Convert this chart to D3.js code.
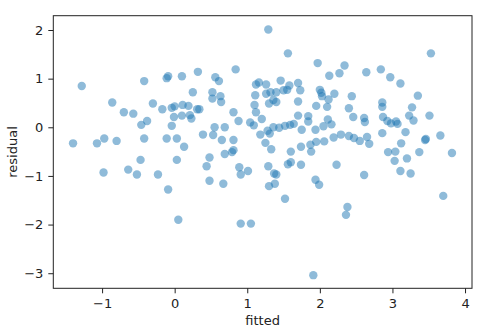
<!DOCTYPE html>
<html>
<head>
<meta charset="utf-8">
<script src="https://cdn.jsdelivr.net/npm/d3@7"></script>
<style>
  body { margin: 0; background: #fff; }
  text { font-family: "DejaVu Sans", sans-serif; }
</style>
</head>
<body>
<div class="resid_chart"></div>
<script>
// residuals vs fitted
const fitted = [
  -1.28, -0.42, -0.86, -0.70, -0.57, -0.30, -0.46, -0.38, -1.40, -1.07,
  -0.97, -0.80, -0.42, -0.98, -0.64, -0.52, -0.47, -0.23, -0.09, 0.05,
  0.03, -0.11, 0.03, 0.13, -0.04, -0.17, -0.04, 0.00, 0.11, 0.19,
  0.31, 0.34, -0.01, 0.10, 0.21, 0.23, -0.11, -0.09, 0.10, 0.32,
  0.56, 0.61, 0.84, 0.25, 0.52, 0.52, 0.63, 0.64, 0.39, 0.53,
  0.55, 0.69, 0.65, 0.81, 0.81, 0.88, 0.69, 0.79, 0.81, 0.48,
  0.44, 0.89, 0.91, 1.01, 0.48, 0.67, 0.91, 1.05, 1.04, 1.09,
  1.18, 1.20, 1.12, 1.10, 1.11, 1.12, 1.16, 1.26, 1.29, 1.56,
  1.46, 1.58, 1.70, 1.26, 1.32, 1.40, 1.50, 1.55, 1.73, 1.30,
  1.36, 1.40, 1.70, 1.70, 1.36, 1.44, 1.28, 1.31, 1.52, 1.59,
  1.64, 1.75, 1.25, 1.33, 1.60, 1.74, 1.97, 2.13, 2.27, 2.34,
  2.00, 2.02, 2.03, 2.12, 2.20, 1.95, 2.10, 1.84, 1.84, 1.94,
  2.05, 2.11, 2.16, 1.87, 1.95, 2.06, 1.88, 2.19, 2.29, 1.56,
  1.60, 1.74, 2.23, 1.29, 1.37, 1.40, 1.38, 1.30, 1.52, 1.94,
  1.99, 1.91, 2.38, 2.36, 2.61, 2.40, 2.47, 2.55, 2.65, 2.68,
  2.44, 2.40, 2.46, 2.61, 2.62, 2.64, 2.84, 2.97, 3.11, 3.53,
  3.35, 3.27, 3.23, 3.29, 3.51, 2.86, 2.86, 2.87, 2.93, 2.98,
  3.05, 3.07, 2.86, 3.12, 3.18, 3.45, 3.46, 3.66, 2.94, 3.04,
  3.03, 3.11, 3.20, 3.25, 3.37, 3.82, 3.70
];
const residual = [
  0.85, 0.95, 0.51, 0.31, 0.28, 0.49, 0.05, 0.13, -0.33, -0.33,
  -0.23, -0.28, -0.23, -0.93, -0.87, -0.97, -0.67, -0.97, -1.28, -1.90,
  -0.67, -0.23, -0.23, -0.40, 0.03, 0.37, 0.40, 0.43, 0.46, 0.44,
  0.37, 0.37, 0.21, 0.24, 0.25, 0.18, 1.01, 1.05, 1.05, 1.14,
  1.03, 0.95, 1.19, 0.72, 0.72, 0.59, 0.64, 0.52, -0.15, -0.16,
  0.00, 0.00, -0.26, -0.26, 0.31, 0.13, -0.55, -0.51, -0.47, -0.62,
  -0.80, -0.82, -0.97, -0.90, -1.10, -1.16, -1.98, -1.98, 0.10, 0.04,
  -0.15, 0.17, 0.31, 0.46, 0.66, 0.88, 0.92, 0.88, 2.01, 1.52,
  0.96, 0.86, 0.91, 0.69, 0.72, 0.72, 0.76, 0.77, 0.76, 0.49,
  0.56, 0.52, 0.53, 0.24, 0.00, -0.01, -0.07, -0.13, 0.03, 0.05,
  0.07, -0.05, -0.32, -0.45, -0.50, -0.40, 1.32, 1.06, 1.11, 1.27,
  0.77, 0.71, 0.64, 0.57, 0.69, 0.44, 0.42, 0.23, 0.12, -0.05,
  0.02, 0.16, 0.06, -0.36, -0.30, -0.29, -0.50, -0.21, -0.15, -0.76,
  -0.72, -0.77, -0.77, -0.80, -0.95, -0.97, -1.16, -1.21, -1.47, -1.08,
  -1.18, -3.04, -1.64, -1.80, -0.98, -0.18, -0.22, -0.28, -0.20, -0.34,
  0.64, 0.39, 0.21, 0.19, 0.11, 1.13, 1.19, 1.03, 0.90, 1.52,
  0.65, 0.41, 0.24, 0.14, 0.24, 0.51, 0.42, 0.21, 0.13, 0.08,
  0.12, 0.07, -0.12, -0.33, -0.10, -0.26, -0.24, -0.17, -0.51, -0.50,
  -0.69, -0.90, -0.64, -0.95, -0.51, -0.53, -1.41
];
const x_ticks = [-1, 0, 1, 2, 3, 4];
const y_ticks = [-3, -2, -1, 0, 1, 2];

let my_WIDTH = 486
let my_HEIGHT = 335
const SVG_MARGIN = {top: 15.7, right: 14, bottom: 46.7, left: 53.3};

const svg = d3.select(".resid_chart")
              .append("svg")
              .attr("width", my_WIDTH)
              .attr("height", my_HEIGHT)

const xScale = d3.scaleLinear()
                 .domain([-1.672, 4.096])
                 .range([SVG_MARGIN.left, my_WIDTH - SVG_MARGIN.right]);

const yScale = d3.scaleLinear()
                 .domain([-3.31, 2.294])
                 .range([my_HEIGHT - SVG_MARGIN.bottom, SVG_MARGIN.top]);

let datos = fitted.map((f, i) => ({fitted: f, residual: residual[i]}));

svg.selectAll(".dot")
   .data(datos).enter()
   .append("circle")
   .attr("class", "dot")
   .attr("cx", d => xScale(d.fitted))
   .attr("cy", d => yScale(d.residual))
   .attr("r", 4.2)
   .attr("fill", "#1f77b4")
   .attr("opacity", 0.5);

// frame
svg.append("rect")
   .attr("x", SVG_MARGIN.left)
   .attr("y", SVG_MARGIN.top)
   .attr("width", my_WIDTH - SVG_MARGIN.right - SVG_MARGIN.left)
   .attr("height", my_HEIGHT - SVG_MARGIN.bottom - SVG_MARGIN.top)
   .attr("fill", "none")
   .attr("stroke", "#222")
   .attr("stroke-width", 1);

const xAxis = d3.axisBottom(xScale).tickValues(x_ticks).tickSize(5).tickPadding(5).tickFormat(d3.format("d"));
const yAxis = d3.axisLeft(yScale).tickValues(y_ticks).tickSize(5).tickPadding(5).tickFormat(d3.format("d"));

const x_axis = svg.append("g")
                  .attr("transform", "translate(0," + (my_HEIGHT - SVG_MARGIN.bottom) + ")")
                  .call(xAxis);
const y_axis = svg.append("g")
                  .attr("transform", "translate(" + SVG_MARGIN.left + ",0)")
                  .call(yAxis);

[x_axis, y_axis].forEach(a => {
  a.select(".domain").remove();
  a.selectAll("line").attr("stroke", "#222");
  a.selectAll("text")
   .attr("fill", "#222")
   .style("font-size", "13px")
   .style("font-family", "DejaVu Sans");
});

svg.append("text")
   .text("fitted")
   .attr("x", (SVG_MARGIN.left + my_WIDTH - SVG_MARGIN.right) / 2)
   .attr("y", 325)
   .attr("fill", "#222")
   .style("text-anchor", "middle")
   .style("font-size", "13px");

svg.append("text")
   .text("residual")
   .attr("transform", "translate(17," + ((SVG_MARGIN.top + my_HEIGHT - SVG_MARGIN.bottom) / 2) + ") rotate(-90)")
   .attr("fill", "#222")
   .style("text-anchor", "middle")
   .style("font-size", "13px");
</script>
</body>
</html>
